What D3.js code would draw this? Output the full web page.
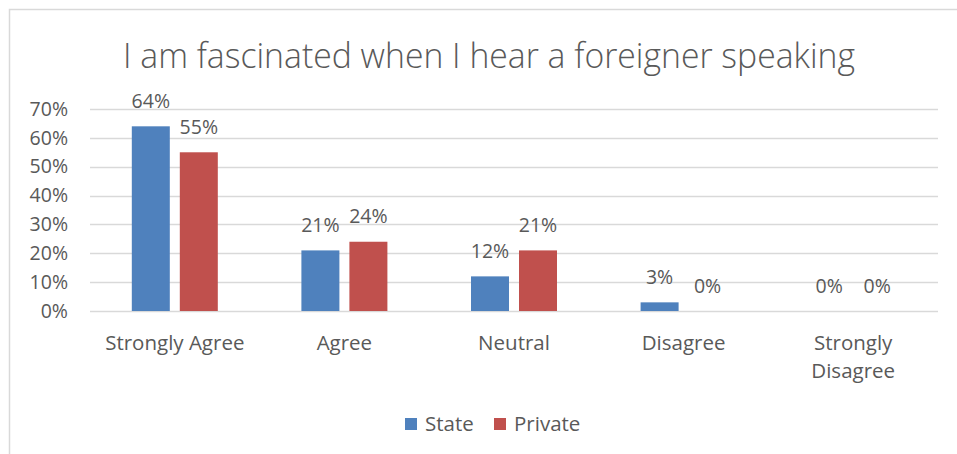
<!DOCTYPE html>
<html>
<head>
<meta charset="utf-8">
<script src="https://cdn.jsdelivr.net/npm/d3@7"></script>
<style>
  html, body { margin: 0; padding: 0; background: #fff; }
  svg { display: block; font-family: "Open Sans", Lato, sans-serif; }
</style>
</head>
<body>
<svg id="chart" width="957" height="454"></svg>
<script>
// Survey responses by school type
const title = "I am fascinated when I hear a foreigner speaking";
const categories = [["Strongly Agree"], ["Agree"], ["Neutral"], ["Disagree"], ["Strongly", "Disagree"]];
const seriesNames = ["State", "Private"];
const stateValues = [0.64, 0.21, 0.12, 0.03, 0.00];
const privateValues = [0.55, 0.24, 0.21, 0.00, 0.00];
const yTicks = [0, 0.1, 0.2, 0.3, 0.4, 0.5, 0.6, 0.7];
const colors = ["#4f81bd", "#c0504d"];

const textColor = "#595959";
const gridColor = "#d9d9d9";

const svg = d3.select("#chart");
const W = 957, H = 454;

svg.append("rect").attr("width", W).attr("height", H).attr("fill", "#fff");
// chart frame
svg.append("rect")
  .attr("x", 9.5).attr("y", 9.5).attr("width", W + 10).attr("height", H + 10)
  .attr("fill", "none").attr("stroke", "#d9d9d9").attr("stroke-width", 1.5);

const plot = { left: 90, right: 938, top: 109, bottom: 311 };

const keys = categories.map(c => c.join(" "));
const x0 = d3.scaleBand().domain(keys).range([plot.left, plot.right]);
const x1 = d3.scaleBand().domain(seriesNames).range([-43, 43]).paddingInner(10 / 48);
const y = d3.scaleLinear().domain([0, 0.7]).range([plot.bottom, plot.top]);

// title
svg.append("text")
  .attr("x", 489).attr("y", 68)
  .attr("text-anchor", "middle")
  .attr("fill", textColor)
  .attr("font-size", 34)
  .attr("font-weight", 300)
  .attr("textLength", 732).attr("lengthAdjust", "spacingAndGlyphs")
  .text(title);

// gridlines
svg.append("g").selectAll("line").data(yTicks).join("line")
  .attr("x1", plot.left).attr("x2", plot.right)
  .attr("y1", d => Math.round(y(d)) + 0.5).attr("y2", d => Math.round(y(d)) + 0.5)
  .attr("stroke", gridColor).attr("stroke-width", 1.3);

// y axis labels
const yAxis = d3.axisLeft(y).tickValues(yTicks).tickFormat(d3.format(".0%")).tickSize(0).tickPadding(0);
const ya = svg.append("g").attr("transform", `translate(68,0)`).call(yAxis);
ya.select(".domain").remove();
ya.selectAll("text").attr("fill", textColor).attr("font-size", 19.5).attr("font-family", "'Open Sans', sans-serif");

// bars
const rows = keys.map((k, i) => ({ key: k, values: [stateValues[i], privateValues[i]] }));
const groups = svg.append("g").selectAll("g").data(rows).join("g")
  .attr("transform", d => `translate(${x0(d.key) + x0.bandwidth() / 2},0)`);

groups.selectAll("rect").data(d => d.values.map((v, j) => ({ s: seriesNames[j], v, j }))).join("rect")
  .attr("x", d => x1(d.s))
  .attr("width", x1.bandwidth())
  .attr("y", d => y(d.v))
  .attr("height", d => y(0) - y(d.v))
  .attr("fill", d => colors[d.j]);

groups.selectAll("text").data(d => d.values.map((v, j) => ({ s: seriesNames[j], v, j }))).join("text")
  .attr("x", d => x1(d.s) + x1.bandwidth() / 2)
  .attr("y", d => y(d.v) - 18.5)
  .attr("text-anchor", "middle")
  .attr("fill", textColor)
  .attr("font-size", 19.5)
  .text(d => d3.format(".0%")(d.v));

// category labels
const cat = svg.append("g").selectAll("text").data(categories).join("text")
  .attr("x", (d, i) => x0(keys[i]) + x0.bandwidth() / 2)
  .attr("y", 349.5)
  .attr("text-anchor", "middle")
  .attr("fill", textColor)
  .attr("font-size", 20.5);
cat.selectAll("tspan").data(d => d).join("tspan")
  .attr("x", function () { return d3.select(this.parentNode).attr("x"); })
  .attr("dy", (d, i) => i === 0 ? 0 : 28)
  .text(d => d);

// legend
const legend = svg.append("g");
const legendItems = [{ x: 405 }, { x: 494 }];
legendItems.forEach((it, i) => {
  legend.append("rect").attr("x", it.x).attr("y", 418).attr("width", 12).attr("height", 12).attr("fill", colors[i]);
  legend.append("text").attr("x", it.x + 20).attr("y", 430.5)
    .attr("fill", textColor).attr("font-size", 20.5).text(seriesNames[i]);
});
</script>
</body>
</html>
